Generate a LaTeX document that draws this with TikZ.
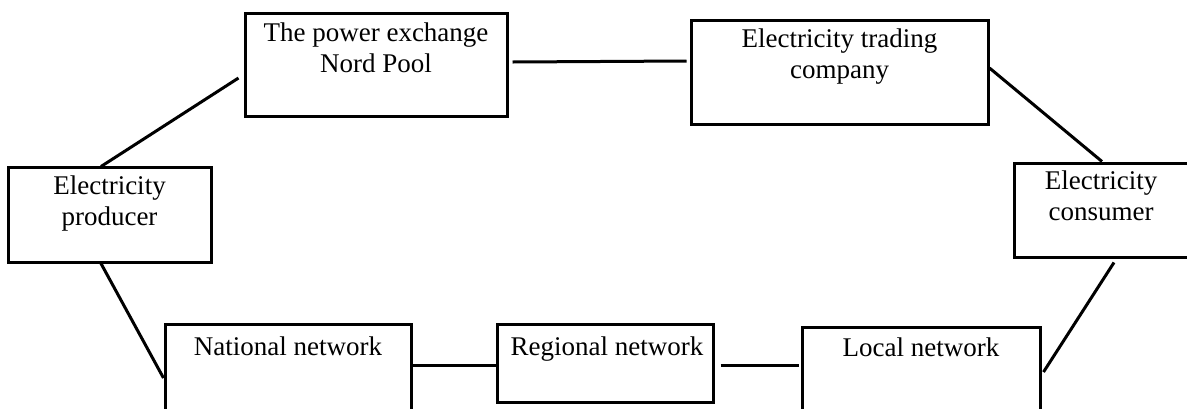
\documentclass[tikz,border=0pt]{standalone}
\usepackage{fontspec}
\setmainfont{Liberation Serif}
\usetikzlibrary{calc}
\begin{document}
\begin{tikzpicture}[x=1pt,y=-1pt,
  box/.style={draw, line width=3pt, inner sep=0pt},
  lbl/.style={font=\fontsize{27}{31}\selectfont, align=center, inner sep=0pt, anchor=base},
  link/.style={line width=3pt}]
\useasboundingbox (0,0) rectangle (1187,408);
\clip (0,0) rectangle (1187,408);

% boxes of the market chain
\node[box, minimum width=262pt, minimum height=103pt] (np) at (376,64.5) {};
\node[box, minimum width=297pt, minimum height=104pt] (tc) at (839.5,72) {};
\node[box, minimum width=203pt, minimum height=95pt]  (pr) at (109.5,214.5) {};
\node[box, minimum width=186pt, minimum height=94pt]  (co) at (1107,210) {};
\node[box, minimum width=246pt, minimum height=106pt] (na) at (288,377) {};
\node[box, minimum width=216pt, minimum height=78pt]  (re) at (605,363) {};
\node[box, minimum width=238pt, minimum height=103pt] (lo) at (921,378.5) {};

% labels near the top of each box (anchored at the last baseline)
\node[lbl] (npt) at (376,72)    {The power exchange\\Nord Pool};
\node[lbl] (tct) at (839.5,78)  {Electricity trading\\company};
\node[lbl] (prt) at (109.5,225) {Electricity\\producer};
\node[lbl] (cot) at (1101,220)  {Electricity\\consumer};
\node[lbl] (nat) at (288,355)   {National network};
\node[lbl] (ret) at (607,355)   {Regional network};
\node[lbl] (lot) at (921,356)   {Local network};

% connections
\draw[link] ($(pr.north)+(-8.5,1)$) -- ($(np.west)+(-5,13.5)$);
\draw[link] ($(np.east)+(4,-2.5)$) -- ($(tc.west)+(-3,-11)$);
\draw[link] ($(tc.east)+(0,-4)$) -- ($(co.north)+(-5,0)$);
\draw[link] ($(co.south)+(7,4)$) -- ($(lo.east)+(2,-6.5)$);
\draw[link] ($(re.east)+(6,2)$) -- ($(lo.west)+(-2,-13.5)$);
\draw[link] ($(na.east)+(0,-12)$) -- ($(re.west)+(0,2)$);
\draw[link] ($(pr.south)+(-8.5,0)$) -- ($(na.west)+(0,1)$);
\end{tikzpicture}
\end{document}
